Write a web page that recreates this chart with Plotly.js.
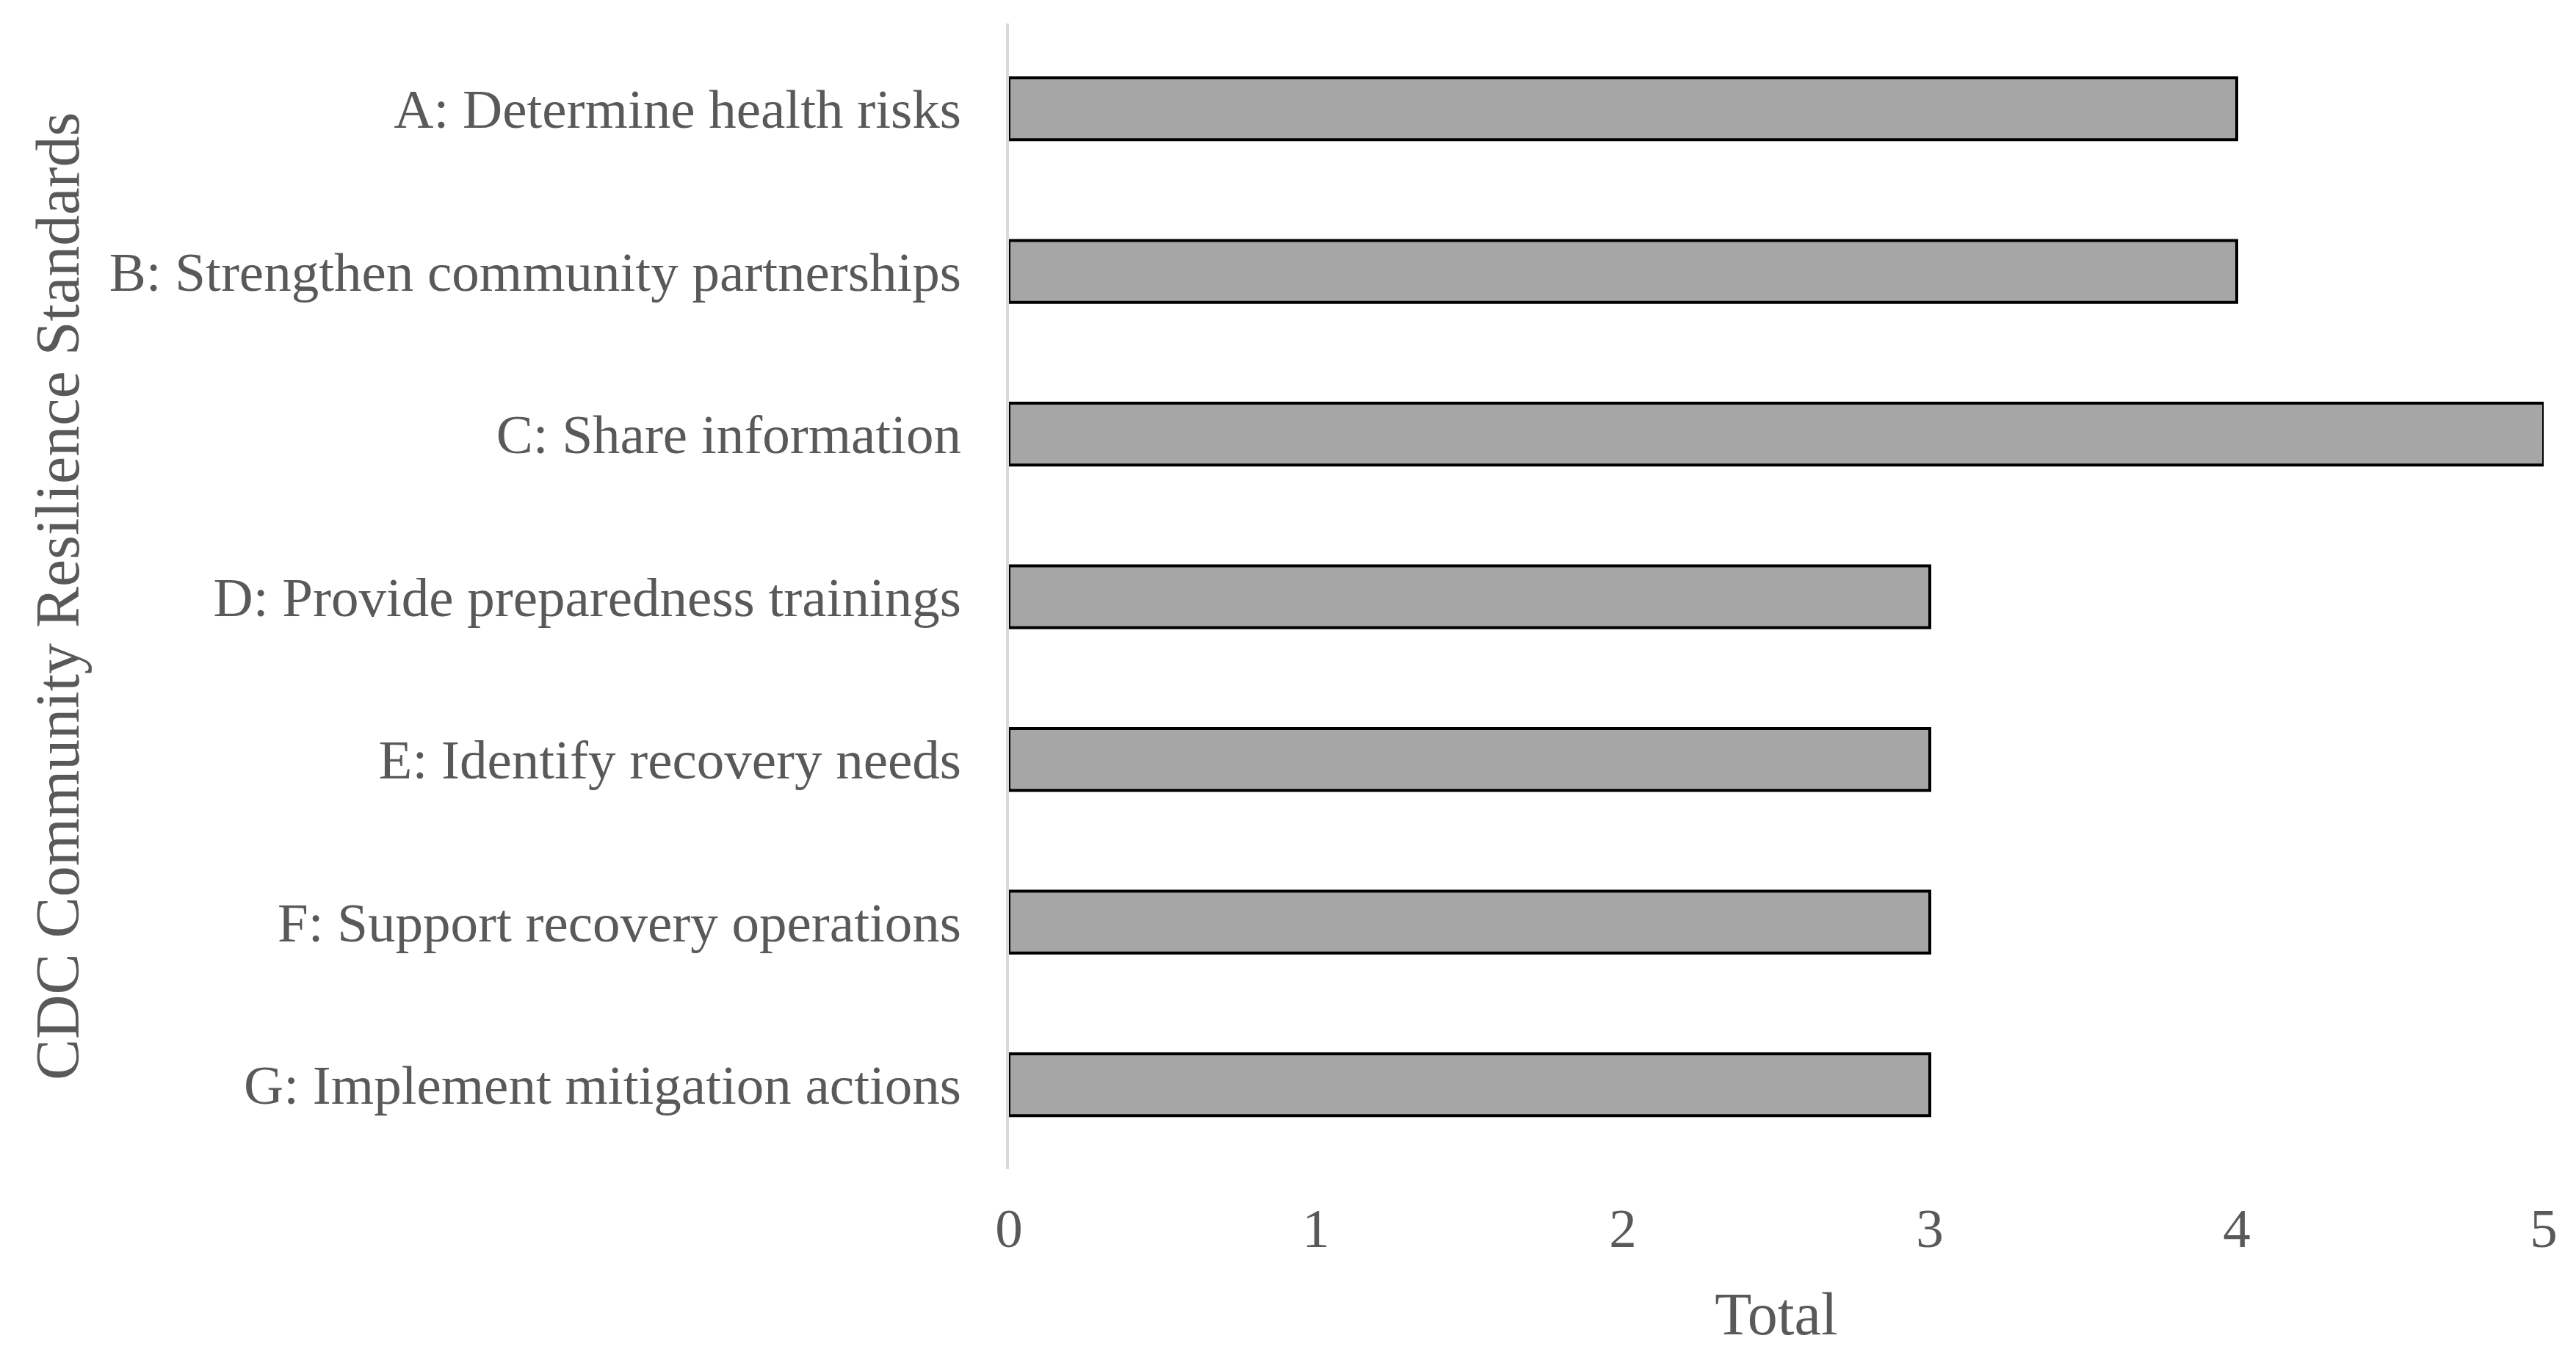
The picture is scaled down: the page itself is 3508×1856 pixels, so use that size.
<!DOCTYPE html>
<html>
<head>
<meta charset="utf-8">
<script src="https://cdn.plot.ly/plotly-3.0.1.min.js"></script>
<style>html,body{margin:0;padding:0;background:#fff;}#chart{width:3508px;height:1856px;}</style>
</head>
<body>
<div id="chart"></div>
<script>
const categories = [
  "A: Determine health risks",
  "B: Strengthen community partnerships",
  "C: Share information",
  "D: Provide preparedness trainings",
  "E: Identify recovery needs",
  "F: Support recovery operations",
  "G: Implement mitigation actions"
];
const totals = [4, 4, 5, 3, 3, 3, 3];
const xTickValues = [0, 1, 2, 3, 4, 5];
const xTitle = "Total";
const yTitle = "CDC Community Resilience Standards";

const fontFamily = "Liberation Serif, 'Times New Roman', serif";
const textColor = "#595959";

const trace = {
  type: "bar",
  orientation: "h",
  x: totals,
  y: categories,
  width: 0.38,
  marker: { color: "#a6a6a6", line: { color: "#000000", width: 4 } },
  hoverinfo: "x+y"
};

const layout = {
  width: 3508,
  height: 1856,
  paper_bgcolor: "#ffffff",
  plot_bgcolor: "#ffffff",
  margin: { l: 1374, r: 44, t: 32, b: 264 },
  showlegend: false,
  font: { family: fontFamily, color: textColor, size: 75 },
  xaxis: {
    range: [0, 5],
    tickvals: xTickValues,
    showgrid: false,
    zeroline: false,
    showline: false,
    ticks: "",
    ticklabelstandoff: 30,
    tickfont: { family: fontFamily, size: 75, color: textColor },
    title: { text: xTitle, font: { family: fontFamily, size: 82, color: textColor }, standoff: 46 }
  },
  yaxis: {
    type: "category",
    categoryorder: "array",
    categoryarray: categories,
    range: [6.519, -0.524],
    showgrid: false,
    zeroline: false,
    showline: true,
    linecolor: "#d9d9d9",
    linewidth: 4,
    ticks: "",
    ticklabelstandoff: 46,
    tickfont: { family: fontFamily, size: 75, color: textColor },
    title: { text: yTitle, font: { family: fontFamily, size: 84, color: textColor }, standoff: 14 }
  }
};

Plotly.newPlot("chart", [trace], layout, { displayModeBar: false, staticPlot: true });
</script>
</body>
</html>
